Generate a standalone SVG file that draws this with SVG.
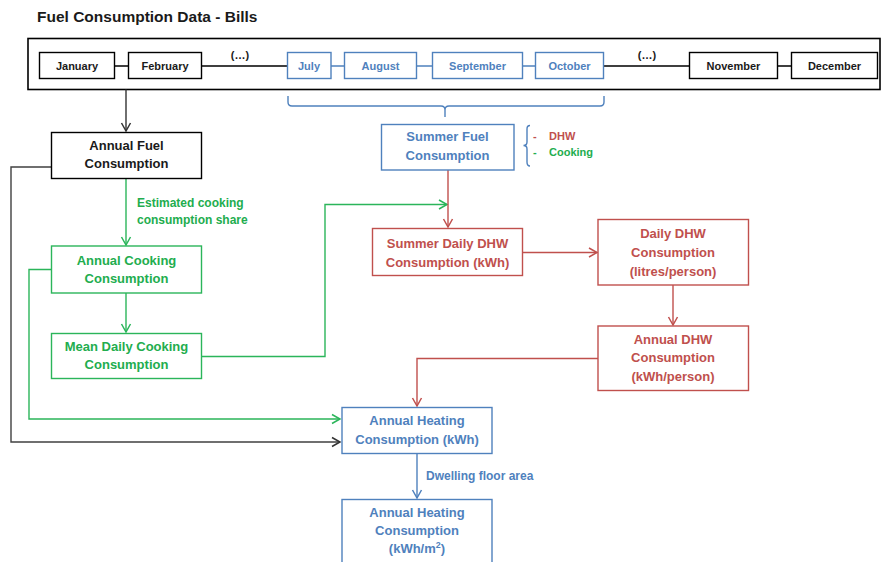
<svg xmlns="http://www.w3.org/2000/svg" width="881" height="562" viewBox="0 0 881 562">
<style>
text{font-family:"Liberation Sans",Arial,sans-serif;font-weight:bold;text-anchor:middle}
.t13{font-size:13px}
.t11{font-size:11px}
.lbl{font-size:12px;text-anchor:start}
.box{fill:#fff;stroke-width:1.4}
.k{stroke:#000}.kt{fill:#1a1a1a}
.b{stroke:#4f81bd}.bt{fill:#4f81bd}
.r{stroke:#c0504d}.rt{fill:#c0504d}
.g{stroke:#2bb55a}.gt{fill:#22ad4e}
.ln{fill:none;stroke-width:1.4}
</style>
<defs>
<marker id="ak" markerUnits="userSpaceOnUse" markerWidth="12" markerHeight="12" refX="9" refY="6" orient="auto"><path d="M1,1.5 L9,6 L1,10.5" fill="none" stroke="#333" stroke-width="1.5"/></marker>
<marker id="ag" markerUnits="userSpaceOnUse" markerWidth="12" markerHeight="12" refX="9" refY="6" orient="auto"><path d="M1,1.5 L9,6 L1,10.5" fill="none" stroke="#2bb55a" stroke-width="1.5"/></marker>
<marker id="ar" markerUnits="userSpaceOnUse" markerWidth="12" markerHeight="12" refX="9" refY="6" orient="auto"><path d="M1,1.5 L9,6 L1,10.5" fill="none" stroke="#c0504d" stroke-width="1.5"/></marker>
<marker id="ab" markerUnits="userSpaceOnUse" markerWidth="12" markerHeight="12" refX="9" refY="6" orient="auto"><path d="M1,1.5 L9,6 L1,10.5" fill="none" stroke="#4f81bd" stroke-width="1.5"/></marker>
</defs>
<rect width="881" height="562" fill="#fff"/>
<text x="37" y="22" style="font-size:15.5px;text-anchor:start" fill="#1a1a1a">Fuel Consumption Data -  Bills</text>

<g id="bills">
<rect x="28" y="38.5" width="852" height="51" fill="#fff" stroke="#000" stroke-width="1.6"/>
</g>

<g id="connectors">
<path class="ln k" d="M114,66 H128 M202,66 H287 M604,66 H689 M777,66 H791"/>
<path class="ln b" d="M331,66 H344 M417,66 H432 M522,66 H535"/>
<path class="ln b" d="M288,96 V102 Q288,106 292,106 H441 Q445,106 445,110 V117 M445,110 Q445,106 449,106 H600 Q604,106 604,102 V96" stroke-width="1.2"/>
<path class="ln b" d="M530,125.5 Q527,125.5 527,129 V142 Q527,145.5 523.5,145.5 Q527,145.5 527,149 V162 Q527,166 530,166" stroke-width="1.2"/>
<path class="ln" stroke="#333" d="M126,89.5 V131" marker-end="url(#ak)"/>
<path class="ln" stroke="#404040" stroke-width="1.6" d="M51,167 H11 V442 H340" marker-end="url(#ak)"/>
<path class="ln g" d="M126,178 V245" marker-end="url(#ag)"/>
<path class="ln g" d="M126,293 V332" marker-end="url(#ag)"/>
<path class="ln g" d="M51,269.5 H29 V419 H340" marker-end="url(#ag)"/>
<path class="ln g" d="M202,356.5 H325 V204.5 H447" marker-end="url(#ag)"/>
<path class="ln r" d="M448,170 V227" marker-end="url(#ar)"/>
<path class="ln r" d="M523,252.5 H597" marker-end="url(#ar)"/>
<path class="ln r" d="M673,285 V325" marker-end="url(#ar)"/>
<path class="ln r" d="M598,358.5 H417 V406" marker-end="url(#ar)"/>
<path class="ln b" d="M417,453.5 V498" marker-end="url(#ab)"/>
</g>

<g class="t11 kt">
<text x="240" y="59">(…)</text>
<text x="647" y="59">(…)</text>
</g>

<g id="jan"><rect class="box k" x="39.5" y="52.5" width="75" height="26"/><text class="t11 kt" x="77" y="70">January</text></g>
<g id="feb"><rect class="box k" x="128.5" y="52.5" width="73" height="26"/><text class="t11 kt" x="165" y="70">February</text></g>
<g id="jul"><rect class="box b" x="287.5" y="52.5" width="43.5" height="26"/><text class="t11 bt" x="309" y="70">July</text></g>
<g id="aug"><rect class="box b" x="344.5" y="52.5" width="72" height="26"/><text class="t11 bt" x="380.5" y="70">August</text></g>
<g id="sep"><rect class="box b" x="432.5" y="52.5" width="90" height="26"/><text class="t11 bt" x="477.5" y="70">September</text></g>
<g id="oct"><rect class="box b" x="535.5" y="52.5" width="68" height="26"/><text class="t11 bt" x="569.5" y="70">October</text></g>
<g id="nov"><rect class="box k" x="689.5" y="52.5" width="88" height="26"/><text class="t11 kt" x="733.5" y="70">November</text></g>
<g id="dec"><rect class="box k" x="791.5" y="52.5" width="86" height="26"/><text class="t11 kt" x="834.5" y="70">December</text></g>

<g id="annual-fuel"><rect class="box k" x="51.5" y="132.5" width="150" height="46"/>
<text class="t13 kt" x="126.5" y="150">Annual Fuel</text><text class="t13 kt" x="126.5" y="168">Consumption</text></g>

<g id="cooking-share-label">
<text x="137" y="207" class="lbl gt">Estimated cooking</text><text x="137" y="224" class="lbl gt">consumption share</text></g>

<g id="annual-cooking"><rect class="box g" x="51.5" y="246" width="150" height="47"/>
<text class="t13 gt" x="126.5" y="264.5">Annual Cooking</text><text class="t13 gt" x="126.5" y="283">Consumption</text></g>

<g id="mean-daily-cooking"><rect class="box g" x="51.5" y="333.5" width="150" height="45"/>
<text class="t13 gt" x="126.5" y="351">Mean Daily Cooking</text><text class="t13 gt" x="126.5" y="368.5">Consumption</text></g>

<g id="summer-fuel"><rect class="box b" x="381.5" y="124.5" width="132.5" height="45.5"/>
<text class="t13 bt" x="447.5" y="141">Summer Fuel</text><text class="t13 bt" x="447.5" y="159.5">Consumption</text></g>

<g id="summer-legend">
<text class="t11 rt" x="533" y="140" style="text-anchor:start">-</text><text class="t11 rt" x="549" y="140" style="text-anchor:start">DHW</text>
<text class="t11 gt" x="533" y="156" style="text-anchor:start">-</text><text class="t11 gt" x="549" y="156" style="text-anchor:start">Cooking</text>
</g>

<g id="summer-daily-dhw"><rect class="box r" x="372.5" y="228.5" width="150" height="47"/>
<text class="t13 rt" x="447.5" y="248">Summer Daily DHW</text><text class="t13 rt" x="447.5" y="266.5">Consumption  (kWh)</text></g>

<g id="daily-dhw"><rect class="box r" x="598" y="219.5" width="150.5" height="65.5"/>
<text class="t13 rt" x="673" y="238">Daily DHW</text><text class="t13 rt" x="673" y="257">Consumption</text><text class="t13 rt" x="673" y="275.5">(litres/person)</text></g>

<g id="annual-dhw"><rect class="box r" x="598" y="326" width="150.5" height="64.5"/>
<text class="t13 rt" x="673" y="344">Annual DHW</text><text class="t13 rt" x="673" y="362">Consumption</text><text class="t13 rt" x="673" y="380.5">(kWh/person)</text></g>

<g id="annual-heating"><rect class="box b" x="342" y="407.5" width="150" height="46"/>
<text class="t13 bt" x="417" y="425">Annual Heating</text><text class="t13 bt" x="417" y="443.5">Consumption  (kWh)</text></g>

<g id="floor-area-label"><text class="lbl bt" x="426" y="480">Dwelling floor area</text></g>

<g id="annual-heating-m2"><rect class="box b" x="342" y="499.5" width="150" height="70"/>
<text class="t13 bt" x="417" y="517">Annual Heating</text><text class="t13 bt" x="417" y="535">Consumption</text><text class="t13 bt" x="417" y="553">(kWh/m<tspan font-size="9" dy="-5">2</tspan><tspan dy="5">)</tspan></text></g>
</svg>
